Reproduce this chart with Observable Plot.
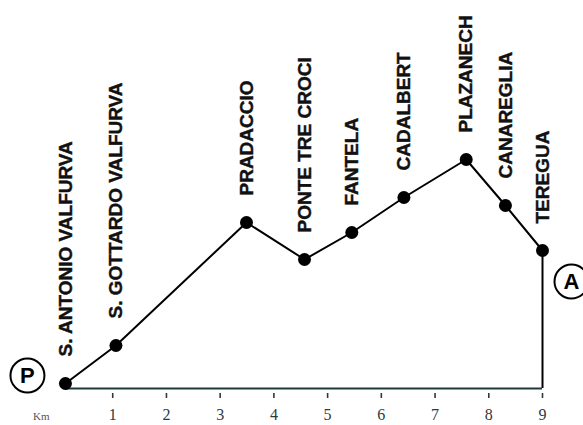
<!DOCTYPE html>
<html>
<head>
<meta charset="utf-8">
<script src="https://cdn.jsdelivr.net/npm/d3@7"></script>
<script src="https://cdn.jsdelivr.net/npm/@observablehq/plot@0.6"></script>
<style>
  html, body { margin: 0; padding: 0; background: #fff; }
  #chart svg { display: block; }
</style>
</head>
<body>
<div id="chart"></div>
<script>
// Stops along the route (names, distance in km, relative height)
const names = ["S. ANTONIO VALFURVA", "S. GOTTARDO VALFURVA", "PRADACCIO", "PONTE TRE CROCI",
               "FANTELA", "CADALBERT", "PLAZANECH", "CANAREGLIA", "TEREGUA"];
const km = [0.12, 1.06, 3.49, 4.57, 5.45, 6.42, 7.58, 8.31, 9.0];
const height = [5, 43, 166, 129, 156, 191, 229, 183, 138];
const kmTicks = [1, 2, 3, 4, 5, 6, 7, 8, 9];
const startMarker = "P";
const endMarker = "A";

const stops = names.map((name, i) => ({name, km: km[i], h: height[i]}));
const first = stops[0];
const last = stops[stops.length - 1];

const sans = "'Liberation Sans', Arial, Helvetica, sans-serif";
const serif = "'Liberation Serif', 'Times New Roman', serif";

const chart = Plot.plot({
  width: 583,
  height: 425,
  marginLeft: 58.5,
  marginRight: 41,
  marginTop: 0,
  marginBottom: 37,
  x: {domain: [0, 9]},
  y: {domain: [0, 388], axis: null},
  style: {background: "white", overflow: "visible"},
  marks: [
    Plot.axisX({ticks: kmTicks, tickSize: 5, dy: 5, tickPadding: 10, fontSize: 16,
                fontFamily: serif, fill: "#2c3a3e", stroke: "#2c3a3e", strokeWidth: 1.6, label: null,
                tickFormat: d => String(d)}),
    Plot.text(["Km"], {frameAnchor: "bottom-left", dx: -26, dy: 24, lineAnchor: "top",
                       fontSize: 11, fontFamily: serif, fill: "#555"}),
    Plot.ruleY([0], {x1: first.km, x2: last.km, stroke: "#1f3a3c", strokeWidth: 1.8}),
    Plot.ruleX([last], {x: "km", y1: 0, y2: "h", stroke: "black", strokeWidth: 2}),
    Plot.line(stops, {x: "km", y: "h", stroke: "black", strokeWidth: 2}),
    Plot.dot(stops, {x: "km", y: "h", r: 6.5, fill: "black"}),
    Plot.text(stops, {x: "km", y: "h", text: "name", rotate: -90, textAnchor: "start",
                      dy: -27, fontSize: 19, fontWeight: "bold", fontFamily: sans, fill: "#111",
                      stroke: "#111", strokeWidth: 0.4}),
    Plot.dot([first], {x: "km", y: "h", dx: -38, dy: -8, r: 17, fill: "white", stroke: "black", strokeWidth: 2}),
    Plot.text([first], {x: "km", y: "h", dx: -38, dy: -8, text: () => startMarker,
                        fontSize: 22, fontWeight: "bold", fontFamily: sans, fill: "black"}),
    Plot.dot([last], {x: "km", y: "h", dx: 29, dy: 31, r: 17, fill: "white", stroke: "black", strokeWidth: 2}),
    Plot.text([last], {x: "km", y: "h", dx: 29, dy: 31, text: () => endMarker,
                       fontSize: 22, fontWeight: "bold", fontFamily: sans, fill: "black"})
  ]
});
document.getElementById("chart").appendChild(chart);
</script>
</body>
</html>
